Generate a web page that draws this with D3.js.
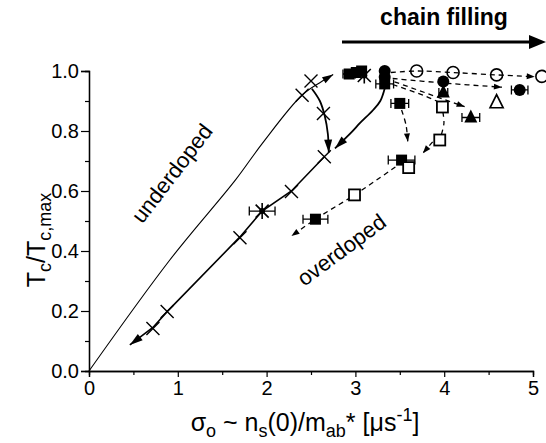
<!DOCTYPE html>
<html><head><meta charset="utf-8">
<script src="https://cdn.jsdelivr.net/npm/d3@7"></script>
<style>body{margin:0;background:#fff}svg{display:block}text{font-family:Arial,"Liberation Sans",sans-serif;fill:#000}</style>
</head><body><svg id="c" width="546" height="443"></svg>
<script>
// ---------- data ----------
const xTicks=[0,1,2,3,4,5];
const xMinor=[0.5,1.5,2.5,3.5,4.5];
const yTicks=[0,0.2,0.4,0.6,0.8,1.0];
const yMinor=[0.1,0.3,0.5,0.7,0.9];
// Uemura (underdoped) line
const uemuraLine=[[0,0],[0.91,0.37],[1.65,0.637],[1.95,0.758],[2.40,0.92],[2.62,0.965],[2.75,0.988]];
// overdoped return line (ends with arrow)
const returnLine=[[2.65,0.714],[2.28,0.60],[1.95,0.533],[1.70,0.447],[0.88,0.198],[0.72,0.145],[0.46,0.087]];
const crossUnder=[[2.40,0.919],[2.50,0.967]];
const crossOver=[[2.64,0.858],[2.65,0.714],[2.28,0.598],[1.70,0.444],[0.88,0.198],[0.72,0.142]];
const asterisks=[{x:1.95,y:0.533,xe:0.145},{x:3.10,y:0.985,xe:0}];
const filledSquares=[{x:2.93,y:0.99,xe:0.07},{x:3.01,y:0.995,xe:0},{x:3.07,y:1.0,xe:0},{x:3.33,y:0.957,xe:0.1},{x:3.50,y:0.892,xe:0.1},{x:3.52,y:0.703,xe:0.15},{x:2.55,y:0.506,xe:0.14}];
const openSquares=[{x:3.98,y:0.88},{x:3.95,y:0.77},{x:3.60,y:0.678},{x:2.99,y:0.587}];
const filledCircles=[{x:3.33,y:1.0,xe:0},{x:3.33,y:0.98,xe:0},{x:3.99,y:0.965,xe:0},{x:4.85,y:0.937,xe:0.093}];
const openCircles=[{x:3.69,y:1.0},{x:4.10,y:0.995},{x:4.59,y:0.987},{x:5.10,y:0.982}];
const filledTriangles=[{x:3.99,y:0.928,xe:0.05},{x:4.30,y:0.845,xe:0.1}];
const openTriangles=[{x:4.59,y:0.894}];
// solid curved arrows
const solidArrow1=[[2.51,0.941],[2.60,0.90],[2.655,0.85],[2.69,0.79],[2.70,0.728]];
const solidArrow2=[[3.33,0.942],[3.28,0.90],[3.20,0.87],[3.05,0.826],[2.96,0.797],[2.77,0.742]];
// dashed paths {pts, arrow}
const dashedPaths=[
 {pts:[[3.40,0.995],[3.69,1.0],[4.10,0.995],[4.59,0.987],[5.02,0.981]],arrow:true},
 {pts:[[3.42,0.975],[3.99,0.96],[4.65,0.946]],arrow:true},
 {pts:[[3.44,0.964],[4.23,0.881]],arrow:true},
 {pts:[[3.42,0.955],[3.80,0.915],[3.96,0.893]],arrow:false},
 {pts:[[3.52,0.87],[3.57,0.82],[3.59,0.765]],arrow:true},
 {pts:[[3.985,0.864],[3.997,0.826],[3.967,0.787]],arrow:false},
 {pts:[[3.87,0.764],[3.76,0.726]],arrow:true},
 {pts:[[3.45,0.68],[2.99,0.587],[2.55,0.506],[2.28,0.45]],arrow:true}
];
// ---------- drawing ----------
const svg=d3.select("#c");
const x=d3.scaleLinear().domain([0,5]).range([89,533]);
const y=d3.scaleLinear().domain([0,1]).range([371,71]);
const P=d=>[x(d[0]),y(d[1])];

// axes
const gx=svg.append("g").attr("transform","translate(0,371)")
  .call(d3.axisBottom(x).tickValues(xTicks).tickFormat(d3.format("d")).tickSize(6).tickPadding(2));
svg.append("g").attr("transform","translate(0,371)")
  .call(d3.axisBottom(x).tickValues(xMinor).tickFormat("").tickSize(4));
const gy=svg.append("g").attr("transform","translate(89,0)")
  .call(d3.axisLeft(y).tickValues(yTicks).tickFormat(d3.format(".1f")).tickSize(8).tickPadding(2));
svg.append("g").attr("transform","translate(89,0)")
  .call(d3.axisLeft(y).tickValues(yMinor).tickFormat("").tickSize(4));
svg.selectAll(".domain").attr("stroke","#000").attr("stroke-width",1.3);
svg.selectAll(".tick line").attr("stroke","#000").attr("stroke-width",1.2);
svg.selectAll(".tick text").attr("font-size",20).attr("font-family","Arial, 'Liberation Sans', sans-serif").attr("fill","#000");
gx.selectAll(".tick text").attr("dy","0.8em");

const line=d3.line().x(d=>x(d[0])).y(d=>y(d[1]));
const cline=d3.line().x(d=>x(d[0])).y(d=>y(d[1])).curve(d3.curveCatmullRom.alpha(0.5));

function head(p1,p2,len,wid){
  const dx=p2[0]-p1[0],dy=p2[1]-p1[1],L=Math.hypot(dx,dy),ux=dx/L,uy=dy/L;
  const bx=p2[0]-ux*len,by=p2[1]-uy*len;
  svg.append("path").attr("d",`M${p2[0]},${p2[1]}L${bx-uy*wid/2},${by+ux*wid/2}L${bx+uy*wid/2},${by-ux*wid/2}Z`).attr("fill","#000");
}

// Uemura line
svg.append("path").attr("d",cline(uemuraLine)).attr("fill","none").attr("stroke","#000").attr("stroke-width",1.1);
head(P(uemuraLine[uemuraLine.length-2]),P(uemuraLine[uemuraLine.length-1]),11,7);
// return line
svg.append("path").attr("d",line(returnLine)).attr("fill","none").attr("stroke","#000").attr("stroke-width",1.6);
head(P(returnLine[returnLine.length-2]),P(returnLine[returnLine.length-1]),13,8);
// solid arrows
[solidArrow1,solidArrow2].forEach(a=>{
  svg.append("path").attr("d",cline(a)).attr("fill","none").attr("stroke","#000").attr("stroke-width",1.8);
  head(P(a[a.length-2]),P(a[a.length-1]),13,8);
});
// dashed
dashedPaths.forEach(dp=>{
  svg.append("path").attr("d",cline(dp.pts)).attr("fill","none").attr("stroke","#000").attr("stroke-width",1.3).attr("stroke-dasharray","5,4");
  if(dp.arrow) head(P(dp.pts[dp.pts.length-2]),P(dp.pts[dp.pts.length-1]),8,6);
});

// error bars
function errbar(d){
  if(!d.xe) return;
  const x0=x(d.x-d.xe),x1=x(d.x+d.xe),yy=y(d.y);
  svg.append("path").attr("d",`M${x0},${yy}H${x1}M${x0},${yy-4.5}V${yy+4.5}M${x1},${yy-4.5}V${yy+4.5}`)
    .attr("stroke","#000").attr("stroke-width",1.3).attr("fill","none");
}
[...asterisks,...filledSquares,...filledCircles,...filledTriangles].forEach(errbar);

// crosses
[...crossUnder,...crossOver].forEach(d=>{
  const [cx,cy]=P(d),s=6.5;
  svg.append("path").attr("d",`M${cx-s},${cy-s}L${cx+s},${cy+s}M${cx-s},${cy+s}L${cx+s},${cy-s}`).attr("stroke","#000").attr("stroke-width",1.4);
});
// filled squares
filledSquares.forEach(d=>{svg.append("rect").attr("x",x(d.x)-5.5).attr("y",y(d.y)-5.5).attr("width",11).attr("height",11).attr("fill","#000");});
// asterisks
asterisks.forEach(d=>{
  const cx=x(d.x),cy=y(d.y),s=6.5;
  svg.append("path").attr("d",`M${cx-s},${cy-s}L${cx+s},${cy+s}M${cx-s},${cy+s}L${cx+s},${cy-s}M${cx},${cy-8}V${cy+8}`).attr("stroke","#000").attr("stroke-width",1.6);
  svg.append("circle").attr("cx",cx).attr("cy",cy).attr("r",3).attr("fill","#000");
});
// open squares
openSquares.forEach(d=>{svg.append("rect").attr("x",x(d.x)-5.5).attr("y",y(d.y)-5.5).attr("width",11).attr("height",11).attr("fill","#fff").attr("stroke","#000").attr("stroke-width",1.8);});
// filled circles
filledCircles.forEach(d=>{svg.append("circle").attr("cx",x(d.x)).attr("cy",y(d.y)).attr("r",6).attr("fill","#000");});
// open circles
openCircles.forEach(d=>{svg.append("circle").attr("cx",x(d.x)).attr("cy",y(d.y)).attr("r",6).attr("fill","none").attr("stroke","#000").attr("stroke-width",1.6);});
// triangles
const tri=(cx,cy,s)=>`M${cx},${cy-s*0.62}L${cx+s/2},${cy+s*0.38}L${cx-s/2},${cy+s*0.38}Z`;
filledTriangles.forEach(d=>{svg.append("path").attr("d",tri(x(d.x),y(d.y),13)).attr("fill","#000");});
openTriangles.forEach(d=>{svg.append("path").attr("d",tri(x(d.x),y(d.y),13)).attr("fill","none").attr("stroke","#000").attr("stroke-width",1.7);});

// chain filling
svg.append("text").attr("x",444).attr("y",25).attr("text-anchor","middle").attr("font-size",23).attr("font-weight","bold").text("chain filling");
svg.append("line").attr("x1",342).attr("x2",532).attr("y1",42).attr("y2",42).attr("stroke","#000").attr("stroke-width",3);
svg.append("path").attr("d","M529,35L546,42L529,49Z").attr("fill","#000");

// region labels
svg.append("text").attr("transform","translate(178,178) rotate(-52.5)").attr("text-anchor","middle").attr("font-size",22).text("underdoped");
svg.append("text").attr("transform","translate(346,256) rotate(-36.5)").attr("text-anchor","middle").attr("font-size",22).text("overdoped");

// axis titles
const yl=svg.append("text").attr("transform","translate(45,240) rotate(-90)").attr("text-anchor","middle").attr("font-size",25);
yl.append("tspan").text("T");
yl.append("tspan").attr("font-size",18).attr("dy",6).text("c");
yl.append("tspan").attr("dy",-6).text("/T");
yl.append("tspan").attr("font-size",18).attr("dy",6).text("c,max");

const xl=svg.append("text").attr("x",305).attr("y",431).attr("text-anchor","middle").attr("font-size",25);
xl.append("tspan").text("σ");
xl.append("tspan").attr("font-size",18).attr("dy",6).text("o");
xl.append("tspan").attr("dy",-6).text(" ~  n");
xl.append("tspan").attr("font-size",18).attr("dy",6).text("s");
xl.append("tspan").attr("dy",-6).text("(0)/m");
xl.append("tspan").attr("font-size",18).attr("dy",6).text("ab");
xl.append("tspan").attr("dy",-6).text("* [μs");
xl.append("tspan").attr("font-size",18).attr("dy",-10).text("-1");
xl.append("tspan").attr("dy",10).text("]");
</script></body></html>
